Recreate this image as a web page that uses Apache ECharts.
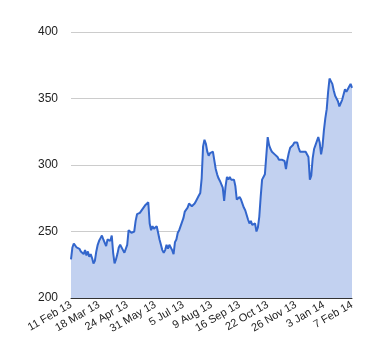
<!DOCTYPE html>
<html>
<head>
<meta charset="utf-8">
<script src="https://cdn.jsdelivr.net/npm/echarts@6/dist/echarts.min.js"></script>
<style>html,body{margin:0;padding:0;background:#fff;}#c{width:380px;height:360px;}</style>
</head>
<body>
<div id="c"></div>
<script>
var tickLabels = ['11 Feb 13','18 Mar 13','24 Apr 13','31 May 13','5 Jul 13','9 Aug 13','16 Sep 13','22 Oct 13','26 Nov 13','3 Jan 14','7 Feb 14'];
var yTicks = [200, 250, 300, 350, 400];
var values = [
229,238,241,242,238,239,237,235,234,233,
236,232,235,231,233,230,226,228,235,240,
243,245,247,244,245,239,244,245,243,247,
234,226,229,233,238,240,239,236,234,233,
240,251,250,249,248,250,258,263,264,264,
265,267,268,270,269,272,256,251,254,252,
251,254,249,244,240,236,234,236,240,237,
240,239,236,233,242,244,249,251,254,257,
260,265,265,268,271,270,269,269,271,273,
275,277,279,290,314,319,316,310,307,309,
308,310,311,297,293,290,288,289,283,273,
284,291,289,291,289,289,289,284,274,273,
276,274,273,268,266,265,259,256,258,255,
256,256,250,253,261,276,289,291,293,293,
321,315,312,310,311,308,307,306,304,303,
304,305,303,297,304,309,313,314,315,317,
318,317,313,310,309,310,309,310,309,306,
289,292,305,312,315,318,321,317,308,314,
326,335,342,355,365,364,361,356,352,350,
348,344,345,349,353,357,355,357,359,361,
358
];
var step = (values.length - 1) / (tickLabels.length - 1);
var categories = values.map(function (v, i) { return String(i); });
var chart = echarts.init(document.getElementById('c'), null, {renderer: 'canvas'});
chart.setOption({
  animation: false,
  grid: {left: 71, right: 28, top: 32, bottom: 62},
  xAxis: {
    type: 'category',
    data: categories,
    boundaryGap: false,
    axisLine: {lineStyle: {color: '#333', width: 1}},
    axisTick: {show: false},
    splitLine: {show: false},
    axisLabel: {
      interval: step - 1,
      rotate: 30,
      margin: 6,
      color: '#222',
      fontSize: 11,
      fontFamily: 'Arial, "Liberation Sans", sans-serif',
      formatter: function (v, i) { return tickLabels[Math.round(i / step)] || ''; }
    }
  },
  yAxis: {
    type: 'value',
    min: yTicks[0],
    max: yTicks[yTicks.length - 1],
    interval: 50,
    axisLine: {show: false},
    axisTick: {show: false},
    splitLine: {lineStyle: {color: '#cccccc', width: 1}},
    axisLabel: {
      margin: 13,
      color: '#222',
      fontSize: 12,
      fontFamily: 'Arial, "Liberation Sans", sans-serif'
    }
  },
  series: [{
    type: 'line',
    data: values,
    showSymbol: false,
    symbol: 'none',
    lineStyle: {color: '#3366cc', width: 2},
    areaStyle: {color: '#c2d1f0', opacity: 1},
    z: 3
  }]
});
</script>
</body>
</html>
